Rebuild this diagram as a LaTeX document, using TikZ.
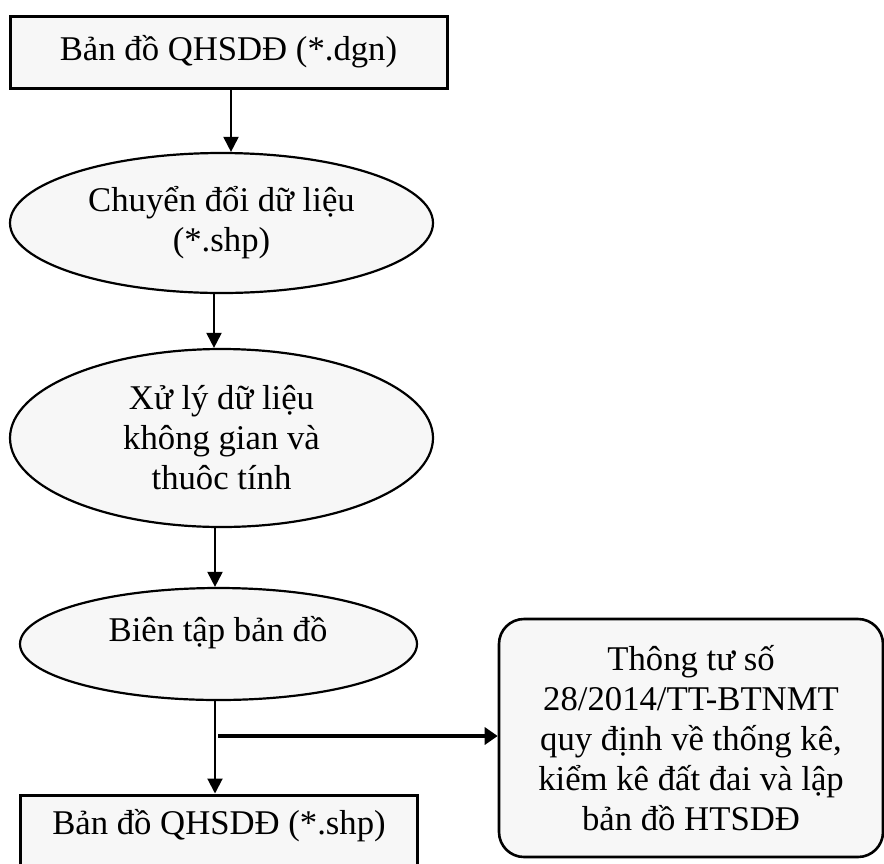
\documentclass[tikz,border=0pt]{standalone}
\usepackage{fontspec}
\setmainfont{Liberation Serif}
\usetikzlibrary{shapes.geometric,arrows.meta}
\definecolor{boxfill}{HTML}{F7F7F7}
\tikzset{
  txt/.style={font=\fontsize{34.7}{40}\selectfont, align=center, text=black},
  sqbox/.style={txt, draw=black, line width=3pt, fill=boxfill, inner sep=0pt},
  oval/.style={txt, ellipse, draw=black, line width=2.2pt, fill=boxfill, inner sep=0pt},
  notebox/.style={txt, draw=black, line width=2.6pt, fill=boxfill, rounded corners=25pt, inner sep=0pt},
  arr/.style={line width=2pt, -{Triangle[length=15pt,width=15pt]}},
  thickarr/.style={line width=4.5pt, -{Triangle[length=13pt,width=17pt]}}
}
\begin{document}
\begin{tikzpicture}[x=1pt, y=-1pt]
  \useasboundingbox (0,0) rectangle (884,863);
  \clip (0,0) rectangle (884,863);

  % process chain
  \node[sqbox, minimum width=437pt, minimum height=72pt] (dgn) at (228.5,52) {Bản đồ QHSDĐ (*.dgn)};
  \node[oval, minimum width=423pt, minimum height=140pt] (conv) at (221.5,223) {Chuyển đổi dữ liệu\\(*.shp)};
  \node[oval, minimum width=423pt, minimum height=178pt] (proc) at (221.5,438) {Xử lý dữ liệu\\không gian và\\thuôc tính};
  \node[oval, minimum width=397pt, minimum height=112pt] (edit) at (218.5,644) {};
  \node[txt] (editlbl) at (218,633) {Biên tập bản đồ};

  % output map, running past the lower edge
  \node[sqbox, minimum width=397pt, minimum height=120pt] (shp) at (218.5,855) {};
  \node[txt] (shplbl) at (219,826) {Bản đồ QHSDĐ (*.shp)};

  % regulation box
  \node[notebox, minimum width=384pt, minimum height=238pt] (reg) at (691,738)
    {Thông tư số\\28/2014/TT-BTNMT\\quy định về thống kê,\\kiểm kê đất đai và lập\\bản đồ HTSDĐ};

  % connectors
  \coordinate (a1) at (231,0);
  \coordinate (a2) at (214,0);
  \coordinate (a3) at (215,0);
  \draw[arr] (dgn.south -| a1) -- (conv.north -| a1);
  \draw[arr] (conv.south -| a2) -- (proc.north -| a2);
  \draw[arr] (proc.south -| a3) -- (edit.north -| a3);
  \draw[arr] (edit.south -| a3) -- (shp.north -| a3);
  \coordinate (branch) at (218,736);
  \draw[thickarr] (branch) -- (branch -| reg.west);
\end{tikzpicture}
\end{document}
